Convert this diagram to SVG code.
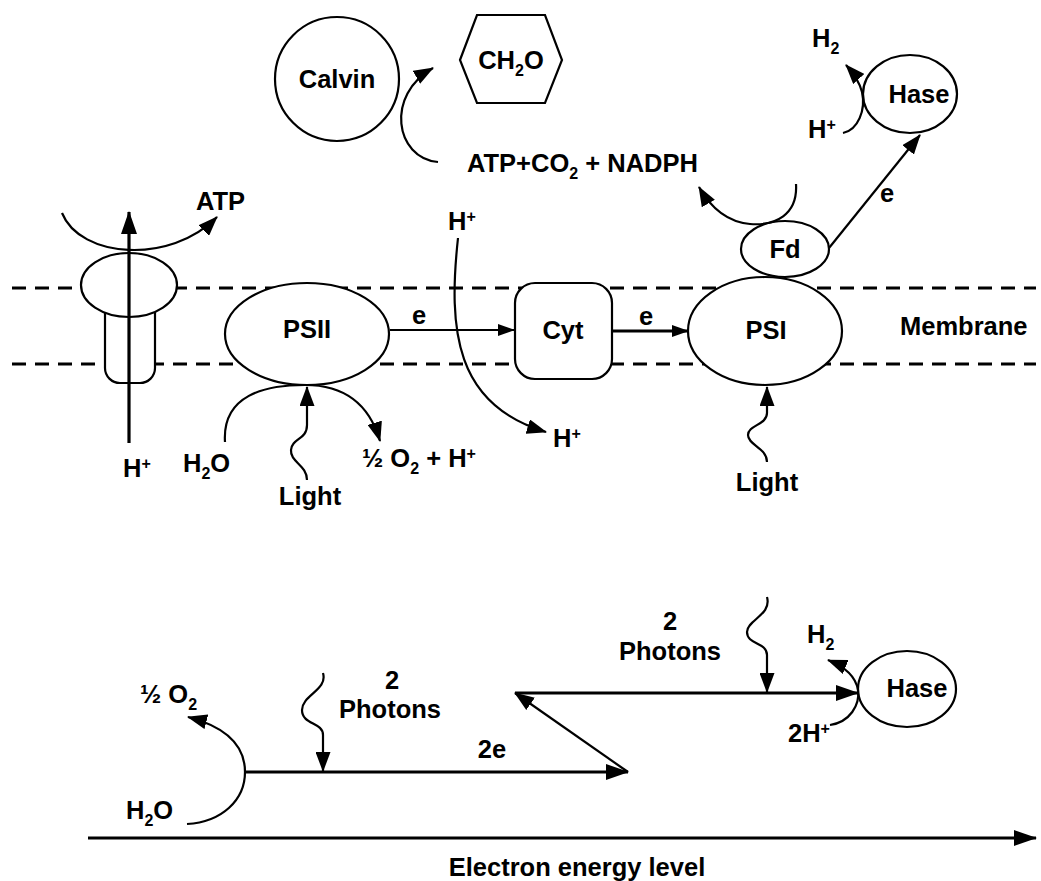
<svg xmlns="http://www.w3.org/2000/svg" width="1041" height="881" viewBox="0 0 1041 881">
<style>
.t{font-family:"Liberation Sans",Arial,Helvetica,sans-serif;font-weight:bold;font-size:25.5px;fill:#000}
.s{font-size:16px}
.shape{fill:#fff;stroke:#000;stroke-width:2.2}
.mem{stroke:#000;stroke-width:3;stroke-dasharray:14 9;fill:none}
.c{fill:none;stroke:#000;stroke-width:2.2}
.k{fill:none;stroke:#000;stroke-width:3.2}
</style>
<defs>
<marker id="ah" markerUnits="userSpaceOnUse" markerWidth="21" markerHeight="15" refX="19" refY="7.5" orient="auto"><path d="M0,0 L20,7.5 L0,15 z" fill="#000"/></marker>
<marker id="ahL" markerUnits="userSpaceOnUse" markerWidth="24" markerHeight="16" refX="22" refY="8" orient="auto"><path d="M0,0 L23,8 L0,16 z" fill="#000"/></marker>
<marker id="ahS" markerUnits="userSpaceOnUse" markerWidth="18" markerHeight="12" refX="16" refY="6" orient="auto"><path d="M0,0 L17,6 L0,12 z" fill="#000"/></marker>
</defs>
<rect width="1041" height="881" fill="#fff"/>

<g id="membrane">
<line class="mem" x1="12" y1="288" x2="1036" y2="288"/>
<line class="mem" x1="12" y1="364" x2="1036" y2="364"/>
<text class="t" x="900" y="335">Membrane</text>
</g>

<g id="calvin">
<circle class="shape" cx="337" cy="79" r="62"/>
<text class="t" x="337" y="88" text-anchor="middle">Calvin</text>
</g>

<g id="ch2o">
<polygon class="shape" points="460,60 477,15 545,15 562,60 545,103 477,103"/>
<text class="t" x="511" y="69" text-anchor="middle">CH<tspan class="s" dy="7">2</tspan><tspan dy="-7">O</tspan></text>
</g>

<g id="atp-synthase">
<path class="shape" d="M105,300 L105,368 A15,15 0 0 0 120,383 L140,383 A15,15 0 0 0 155,368 L155,300 Z"/>
<ellipse class="shape" cx="129" cy="285" rx="48" ry="32"/>
</g>

<g id="psii">
<ellipse class="shape" cx="307" cy="334" rx="82" ry="51"/>
<text class="t" x="307" y="338" text-anchor="middle">PSII</text>
</g>

<g id="cyt">
<rect class="shape" x="515" y="283" width="97" height="96" rx="20" ry="20"/>
<text class="t" x="563" y="339" text-anchor="middle">Cyt</text>
</g>

<g id="psi">
<ellipse class="shape" cx="765" cy="331" rx="77" ry="54"/>
<text class="t" x="766" y="339" text-anchor="middle">PSI</text>
</g>

<g id="fd">
<ellipse class="shape" cx="785" cy="249" rx="44" ry="28"/>
<text class="t" x="785" y="258" text-anchor="middle">Fd</text>
</g>

<g id="hase-top">
<ellipse class="shape" cx="910" cy="94" rx="47" ry="39"/>
<text class="t" x="919" y="103" text-anchor="middle">Hase</text>
</g>

<g id="hase-bottom">
<ellipse class="shape" cx="907" cy="689" rx="49" ry="38"/>
<text class="t" x="917" y="697" text-anchor="middle">Hase</text>
</g>

<g id="connectors">
<path class="c" d="M438,162 C395,158 385,95 433,68" marker-end="url(#ah)"/>
<line class="k" x1="129" y1="443" x2="129" y2="212" marker-end="url(#ahL)"/>
<path class="c" d="M62,213 C80,258 170,265 217,217" marker-end="url(#ah)"/>
<path class="c" d="M225,442 C222,395 265,385 305,385 C340,385 368,400 380,441" marker-end="url(#ah)"/>
<path class="c" d="M307,480 C307,465 290,462 291,450 C292,438 307,440 307,425 L307,387" marker-end="url(#ah)"/>
<line class="c" x1="390" y1="330" x2="514" y2="330" marker-end="url(#ahS)"/>
<line class="k" x1="612" y1="331" x2="688" y2="331" marker-end="url(#ahS)"/>
<path class="c" d="M458,238 C448,330 455,405 546,432" marker-end="url(#ah)"/>
<path class="c" d="M767,462 C767,448 748,445 748,435 C748,425 767,425 767,413 L767,387" marker-end="url(#ah)"/>
<path class="c" d="M796,184 C798,215 775,226 750,224 C728,222 712,210 699,187" marker-end="url(#ah)"/>
<line class="c" x1="829" y1="248" x2="920" y2="135" marker-end="url(#ah)"/>
<path class="c" d="M843,133 C858,130 866,110 862,92 C860,84 856,76 846,65" marker-end="url(#ah)"/>
<line class="k" x1="88" y1="838" x2="1036" y2="838" marker-end="url(#ahL)"/>
<path class="c" d="M187,824 C222,822 245,800 245,772 C245,748 230,728 188,717" marker-end="url(#ah)"/>
<line class="k" x1="245" y1="772" x2="628" y2="772" marker-end="url(#ahL)"/>
<path class="c" d="M323,673 C328,690 302,695 302,710 C302,725 323,722 323,735 L323,771" marker-end="url(#ah)"/>
<line class="c" x1="628" y1="772" x2="515" y2="693" marker-end="url(#ah)"/>
<line class="k" x1="515" y1="693" x2="858" y2="693" marker-end="url(#ahL)"/>
<path class="c" d="M767,597 C772,615 747,620 747,632 C747,645 767,642 767,655 L767,692" marker-end="url(#ah)"/>
<path class="c" d="M830,725 C850,722 860,705 858,690 C856,678 848,668 828,660" marker-end="url(#ah)"/>
</g>

<g id="labels">
<text class="t" x="467" y="172">ATP+CO<tspan class="s" dy="7">2</tspan><tspan dy="-7"> + NADPH</tspan></text>
<text class="t" x="196" y="210">ATP</text>
<text class="t" x="123" y="477">H<tspan class="s" dy="-8">+</tspan></text>
<text class="t" x="183" y="472">H<tspan class="s" dy="7">2</tspan><tspan dy="-7">O</tspan></text>
<text class="t" x="310" y="505" text-anchor="middle">Light</text>
<text class="t" x="362" y="467">½ O<tspan class="s" dy="7">2</tspan><tspan dy="-7"> + H</tspan><tspan class="s" dy="-8">+</tspan></text>
<text class="t" x="419" y="324" text-anchor="middle">e</text>
<text class="t" x="646" y="325" text-anchor="middle">e</text>
<text class="t" x="448" y="230">H<tspan class="s" dy="-8">+</tspan></text>
<text class="t" x="553" y="447">H<tspan class="s" dy="-8">+</tspan></text>
<text class="t" x="767" y="491" text-anchor="middle">Light</text>
<text class="t" x="887" y="202" text-anchor="middle">e</text>
<text class="t" x="812" y="47">H<tspan class="s" dy="7">2</tspan></text>
<text class="t" x="808" y="138">H<tspan class="s" dy="-8">+</tspan></text>
<text class="t" x="140" y="703">½ O<tspan class="s" dy="7">2</tspan></text>
<text class="t" x="126" y="819">H<tspan class="s" dy="7">2</tspan><tspan dy="-7">O</tspan></text>
<text class="t" x="392" y="689" text-anchor="middle">2</text>
<text class="t" x="390" y="718" text-anchor="middle">Photons</text>
<text class="t" x="492" y="758" text-anchor="middle">2e</text>
<text class="t" x="670" y="630" text-anchor="middle">2</text>
<text class="t" x="670" y="660" text-anchor="middle">Photons</text>
<text class="t" x="807" y="643">H<tspan class="s" dy="7">2</tspan></text>
<text class="t" x="788" y="742">2H<tspan class="s" dy="-8">+</tspan></text>
<text class="t" x="577" y="876" text-anchor="middle">Electron energy level</text>
</g>
</svg>
